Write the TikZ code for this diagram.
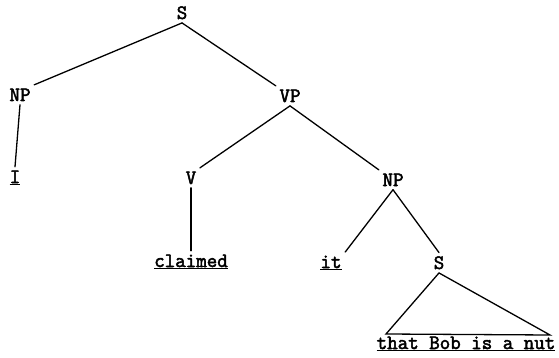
\documentclass[tikz,border=0pt]{standalone}
\usepackage{fontspec}
\setmonofont{Latin Modern Mono}[AutoFakeBold=2.5]
\usetikzlibrary{positioning}

\newcommand{\treefont}{\fontsize{20.4}{23}\selectfont\ttfamily\bfseries}

\begin{document}
\begin{tikzpicture}[
  x=1pt,y=-1pt,
  cat/.style={font=\treefont,inner sep=3.5pt,anchor=base},
  leaf/.style={font=\treefont,inner sep=3.5pt,anchor=base},
  branch/.style={line width=1.3pt,line cap=round}
]
\useasboundingbox (0,0) rectangle (559,358);
% categories
\node[cat] (s) at (182,19) {S};
\node[cat] (np) at (20,101) {NP};
\node[cat] (vp) at (290,102) {VP};
\node[cat] (v) at (191,184) {V};
\node[cat] (npobj) at (393,186) {NP};
\node[cat] (scomp) at (439,269) {S};
% words
\node[leaf] (i) at (15,183) {\underline{I}};
\node[leaf] (claimed) at (191,267) {\underline{claimed}};
\node[leaf] (it) at (331,268) {\underline{it}};
\node[leaf] (nut) at (466,349) {\underline{that Bob is a nut}};
\coordinate (baseleft) at (386,334);
\coordinate (baseright) at (550,335);
% branches
\draw[branch] (s.south) -- (np.north east);
\draw[branch] (s.south) -- (vp.north west);
\draw[branch] (np.south) -- (i.north);
\draw[branch] (vp.south) -- (v.north east);
\draw[branch] (vp.south) -- (npobj.north west);
\draw[branch] (v.south) -- (claimed.north);
\draw[branch] (npobj.south) -- (it.north east);
\draw[branch] (npobj.south) -- (scomp.north);
\draw[branch] (scomp.south) -- (baseleft) -- (baseright) -- cycle;
\end{tikzpicture}
\end{document}
